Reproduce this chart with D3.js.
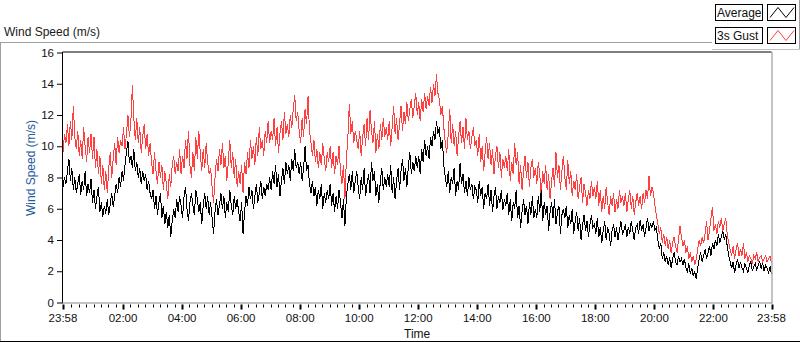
<!DOCTYPE html>
<html>
<head>
<meta charset="utf-8">
<script src="https://cdn.jsdelivr.net/npm/d3@7"></script>
<style>
  html, body { margin: 0; padding: 0; background: #fff; }
  svg { display: block; font-family: "Liberation Sans", Arial, sans-serif; }
</style>
</head>
<body>
<svg id="chart" width="800" height="342"></svg>
<script>
// ---- data (one row per hour, sampled every 3 minutes from 23:58) ----
const startTime = "23:58";
const sampleMinutes = 3;
const avgSpeed = [
  7.4, 8.0, 7.6, 8.4, 9.2, 7.8, 8.6, 7.2, 8.0, 7.0, 7.6, 8.2, 6.9, 7.8, 7.2, 8.4, 6.8, 7.6, 7.0, 7.9,
  6.4, 7.2, 6.0, 6.8, 7.4, 5.8, 6.4, 5.5, 6.2, 5.7, 6.6, 5.6, 6.3, 7.0, 6.1, 6.8, 7.6, 7.0, 8.0, 7.4,
  8.4, 7.8, 8.8, 9.6, 10.3, 8.9, 9.4, 8.6, 9.8, 8.4, 9.0, 8.0, 8.6, 7.6, 8.4, 7.8, 8.2, 7.2, 7.8, 7.0,
  6.6, 7.2, 6.0, 6.8, 5.6, 6.4, 7.0, 5.4, 6.2, 5.0, 5.8, 4.8, 5.6, 4.2, 5.2, 6.0, 5.4, 6.6, 5.8, 6.8,
  6.2, 5.4, 6.8, 7.4, 6.0, 5.2, 6.4, 7.0, 6.2, 5.6, 7.2, 6.6, 5.8, 6.4, 5.0, 6.2, 7.0, 6.0, 6.8, 5.6,
  6.4, 5.4, 4.4, 5.8, 6.6, 5.6, 6.2, 7.0, 6.0, 6.8, 5.4, 6.4, 5.8, 7.2, 6.2, 5.6, 6.8, 6.0, 6.6, 5.8,
  5.2, 6.4, 4.4, 5.8, 6.8, 6.2, 7.4, 6.6, 7.2, 6.0, 6.8, 7.6, 6.4, 7.0, 7.8, 6.6, 7.4, 6.8, 7.6, 7.2,
  8.0, 7.2, 8.4, 7.6, 8.8, 7.4, 8.2, 6.8, 7.8, 8.6, 7.6, 9.0, 8.2, 8.8, 7.8, 9.2, 8.4, 9.8, 8.6, 9.0,
  8.2, 9.0, 7.8, 8.6, 10.0, 8.4, 8.8, 7.6, 7.0, 7.8, 6.8, 7.4, 6.2, 7.2, 6.6, 7.6, 6.0, 7.0, 6.4, 7.2,
  6.6, 7.6, 6.2, 7.0, 5.8, 6.8, 6.0, 7.2, 6.4, 5.4, 6.6, 4.9, 6.8, 7.6, 8.2, 7.2, 8.4, 7.0, 7.8, 8.4,
  7.4, 6.6, 8.0, 7.2, 8.6, 6.8, 7.6, 8.2, 7.0, 9.0, 7.8, 8.4, 6.8, 7.6, 6.4, 7.8, 8.6, 7.2, 8.0, 7.4,
  8.2, 7.4, 8.8, 7.0, 8.0, 6.6, 7.8, 8.6, 7.2, 8.4, 9.2, 7.8, 8.6, 7.4, 8.8, 9.6, 8.2, 9.0, 8.4, 9.4,
  8.6, 9.4, 8.2, 9.8, 9.0, 10.4, 9.4, 10.0, 9.2, 10.6, 10.0, 11.0, 10.4, 11.6, 10.8, 11.2, 9.8, 10.4, 8.8, 8.0,
  7.4, 8.4, 7.0, 8.0, 7.6, 8.6, 6.8, 7.8, 7.2, 8.9, 7.6, 8.2, 7.0, 7.8, 6.8, 8.0, 7.2, 7.6, 6.6, 7.4,
  7.2, 6.4, 7.8, 6.8, 7.4, 6.0, 7.0, 6.6, 7.6, 6.2, 7.2, 5.8, 6.8, 7.4, 6.0, 6.8, 6.4, 7.2, 5.9, 6.6,
  6.2, 7.0, 5.6, 6.6, 5.2, 6.4, 6.0, 7.2, 5.4, 6.2, 4.8, 5.8, 6.6, 5.6, 6.2, 5.0, 6.4, 5.6, 6.8, 5.4,
  6.0, 5.4, 6.8, 5.8, 7.2, 5.2, 6.4, 5.6, 6.2, 4.6, 5.8, 6.4, 5.4, 6.6, 5.0, 5.8, 6.2, 4.4, 5.6, 6.0,
  5.4, 6.2, 4.8, 5.6, 5.0, 6.0, 4.4, 5.2, 5.8, 4.6, 5.4, 4.0, 5.0, 5.6, 4.6, 5.2, 4.2, 5.0, 5.6, 4.8,
  5.0, 4.4, 5.4, 4.2, 4.8, 3.8, 4.6, 5.2, 4.0, 4.8, 4.4, 3.6, 4.6, 5.0, 4.2, 4.8, 4.0, 4.6, 5.2, 4.4,
  4.6, 5.0, 4.2, 4.8, 4.4, 5.2, 4.6, 4.0, 4.8, 5.0, 4.4, 5.3, 4.6, 5.0, 4.2, 4.8, 5.4, 4.6, 5.0, 4.8,
  5.2, 4.6, 4.8, 4.0, 3.4, 3.8, 2.8, 3.2, 2.6, 3.0, 2.4, 2.9, 2.2, 2.8, 3.2, 2.6, 2.4, 3.0, 2.6, 2.8,
  2.4, 2.8, 2.2, 2.0, 2.5, 1.8, 2.2, 1.7, 2.0, 1.5, 2.2, 2.8, 3.2, 2.6, 3.0, 3.4, 2.8, 3.2, 3.6, 3.0,
  3.8, 3.4, 4.0, 3.6, 4.4, 3.8, 4.2, 4.6, 4.0, 4.4, 3.6, 3.0, 2.6, 2.2, 2.6, 1.9, 2.4, 2.8, 2.2, 2.6,
  2.2, 2.0, 2.5, 2.2, 1.9, 2.4, 2.6, 2.0, 2.3, 2.5, 2.1, 2.4, 2.6, 2.2, 2.5, 2.0, 2.4, 2.2, 1.9, 2.3, 1.8
];
const gustSpeed = [
  9.6, 10.8, 10.2, 11.4, 10.0, 11.6, 10.4, 12.6, 10.6, 9.8, 11.0, 9.4, 10.4, 9.2, 11.2, 10.0, 9.0, 10.6, 9.6, 10.8,
  9.2, 10.6, 8.6, 9.8, 8.2, 9.4, 7.6, 8.8, 7.2, 8.4, 7.0, 8.6, 9.6, 8.0, 9.2, 10.2, 8.8, 10.6, 9.6, 10.4,
  10.0, 11.2, 9.8, 10.8, 12.0, 10.6, 11.6, 13.9, 11.8, 10.4, 11.8, 10.2, 11.2, 9.6, 10.6, 11.4, 9.8, 10.8, 9.4, 10.2,
  9.0, 8.2, 9.6, 8.4, 7.6, 9.0, 8.0, 8.8, 7.2, 8.4, 7.6, 6.6, 8.2, 7.4, 8.8, 9.4, 8.2, 9.0, 8.4, 9.8,
  8.2, 9.4, 8.6, 10.4, 9.2, 11.0, 8.8, 8.0, 9.6, 8.4, 10.6, 9.2, 11.0, 9.6, 8.4, 9.8, 8.6, 10.2, 9.0, 8.2,
  8.6, 7.4, 6.4, 8.0, 9.2, 8.4, 9.8, 8.8, 10.2, 8.6, 9.4, 7.8, 9.0, 10.4, 8.6, 9.6, 8.0, 9.2, 7.4, 8.4,
  7.6, 8.8, 7.0, 9.0, 8.2, 9.6, 8.6, 10.4, 9.2, 10.0, 8.8, 10.6, 9.4, 11.2, 9.8, 10.4, 9.4, 11.0, 10.2, 11.6,
  10.2, 11.0, 10.4, 11.8, 10.0, 11.2, 9.6, 10.8, 11.6, 10.4, 12.2, 10.8, 11.4, 10.6, 12.0, 11.2, 12.4, 13.3, 11.6, 12.2,
  11.0, 10.2, 11.8, 10.6, 12.4, 11.4, 13.2, 11.0, 10.2, 9.4, 10.4, 9.0, 9.8, 8.6, 9.6, 8.8, 10.2, 9.2, 8.4, 9.6,
  9.0, 10.0, 8.6, 9.6, 8.2, 9.4, 8.8, 10.0, 8.4, 7.6, 8.8, 6.6, 9.2, 10.6, 12.7, 10.8, 11.6, 10.2, 11.0, 10.4,
  9.8, 11.0, 9.4, 10.6, 11.4, 10.0, 11.8, 10.4, 12.3, 11.0, 10.2, 11.6, 9.6, 10.8, 9.8, 11.4, 10.4, 11.8, 10.6, 11.2,
  10.4, 11.6, 10.0, 11.2, 12.6, 10.8, 11.8, 10.4, 11.4, 12.6, 11.0, 12.2, 11.4, 12.8, 11.6, 12.4, 13.0, 11.8, 12.6, 13.4,
  12.0, 12.8, 11.6, 13.0, 12.2, 13.4, 12.4, 13.2, 12.6, 13.8, 12.8, 14.0, 13.2, 14.6, 13.4, 13.0, 12.0, 12.6, 11.2, 10.2,
  9.6, 10.8, 12.4, 10.2, 11.4, 10.0, 11.0, 9.4, 10.6, 11.6, 10.2, 11.2, 9.8, 11.8, 10.4, 11.0, 9.8, 10.6, 11.2, 10.0,
  10.4, 9.4, 10.8, 9.0, 10.0, 8.4, 9.6, 10.6, 9.2, 10.2, 8.8, 9.8, 8.2, 9.4, 10.0, 8.6, 9.6, 8.0, 9.2, 8.6,
  9.4, 8.4, 9.8, 7.8, 9.0, 8.2, 10.2, 8.8, 9.6, 7.6, 8.8, 7.2, 8.4, 9.4, 8.0, 9.0, 7.4, 8.6, 9.2, 8.0,
  8.6, 7.6, 9.0, 8.2, 6.8, 8.4, 7.6, 8.8, 7.2, 8.2, 6.6, 7.8, 8.6, 7.4, 9.6, 8.0, 8.8, 7.2, 8.4, 9.4,
  8.0, 7.2, 9.1, 7.6, 8.4, 6.8, 7.8, 7.2, 8.2, 6.6, 7.4, 8.0, 6.4, 7.6, 7.0, 6.2, 7.2, 6.6, 7.8, 6.8,
  7.4, 6.6, 7.8, 6.2, 7.2, 5.8, 6.8, 6.0, 7.4, 6.4, 5.6, 6.8, 6.2, 7.0, 5.8, 6.6, 6.0, 7.2, 6.4, 6.8,
  6.2, 7.0, 5.8, 6.6, 7.2, 6.0, 6.8, 5.6, 6.4, 7.0, 6.2, 6.8, 6.0, 7.0, 6.4, 7.2, 6.6, 8.1, 6.8, 7.4,
  7.0, 6.2, 5.6, 5.0, 4.4, 4.8, 3.8, 4.4, 3.6, 4.2, 3.4, 4.0, 3.2, 3.8, 4.2, 3.6, 3.2, 4.0, 4.9, 4.2,
  3.6, 4.0, 3.2, 3.6, 2.8, 3.2, 2.6, 3.0, 2.4, 2.8, 3.4, 4.0, 3.6, 4.2, 3.8, 4.4, 5.2, 4.0, 4.6, 5.4,
  6.1, 4.6, 5.0, 4.4, 5.2, 4.8, 5.4, 4.6, 5.0, 5.4, 4.4, 3.8, 3.4, 3.0, 3.6, 2.8, 3.4, 3.8, 3.0, 3.4,
  3.0, 3.8, 2.8, 3.2, 2.6, 3.0, 2.8, 2.5, 3.0, 2.8, 3.2, 2.6, 2.9, 3.0, 2.6, 2.8, 3.0, 2.6, 2.8, 3.0, 2.5
];
const yTickValues = [0, 2, 4, 6, 8, 10, 12, 14, 16];
const seriesNames = ["Average", "3s Gust"];
const seriesColors = ["#000000", "#ff4040"];
const chartTitle = "Wind Speed (m/s)";
const yAxisTitle = "Wind Speed (m/s)";
const xAxisTitle = "Time";

// ---- setup ----
const svg = d3.select("#chart");
const plot = { left: 63, top: 52.5, right: 771.5, bottom: 302.5 };

const [sh, sm] = startTime.split(":").map(Number);
const t0 = new Date(2020, 0, 1, sh, sm);
const t1 = new Date(t0.getTime() + 24 * 3600 * 1000);
const timeAt = i => new Date(t0.getTime() + i * sampleMinutes * 60000);

const x = d3.scaleTime().domain([t0, t1]).range([plot.left, plot.right]);
const y = d3.scaleLinear().domain([0, 16]).range([plot.bottom, plot.top]);
const fmt = d3.timeFormat("%H:%M");

// outer frame
svg.append("line").attr("x1", 0).attr("x2", 712).attr("y1", 42.5).attr("y2", 42.5).attr("stroke", "#a0a0a0");
svg.append("line").attr("x1", 0.5).attr("x2", 0.5).attr("y1", 42.5).attr("y2", 341).attr("stroke", "#a0a0a0");
svg.append("line").attr("x1", 0).attr("x2", 800).attr("y1", 341.5).attr("y2", 341.5).attr("stroke", "#000");
// legend panel borders
svg.append("line").attr("x1", 712).attr("x2", 799).attr("y1", 49.5).attr("y2", 49.5).attr("stroke", "#c0c0c0");
svg.append("line").attr("x1", 799.5).attr("x2", 799.5).attr("y1", 0).attr("y2", 49.5).attr("stroke", "#a0a0a0");

// chart title
svg.append("text").attr("x", 4).attr("y", 36).attr("font-size", 12).attr("fill", "#1a1a1a").text(chartTitle);

// clip
svg.append("clipPath").attr("id", "clip").append("rect")
  .attr("x", plot.left).attr("y", plot.top).attr("width", plot.right - plot.left).attr("height", plot.bottom - plot.top);

// lines (aliased, like the original instrument display)
const line = d3.line().x((d, i) => x(timeAt(i))).y(d => y(d));
const g = svg.append("g").attr("clip-path", "url(#clip)");
g.append("path").datum(gustSpeed).attr("d", line).attr("fill", "none").attr("stroke", seriesColors[1])
  .attr("stroke-width", 1).attr("shape-rendering", "crispEdges");
g.append("path").datum(avgSpeed).attr("d", line).attr("fill", "none").attr("stroke", seriesColors[0])
  .attr("stroke-width", 1).attr("shape-rendering", "crispEdges");

// plot frame
svg.append("line").attr("x1", plot.left - 0.5).attr("x2", plot.right).attr("y1", plot.top - 0.5).attr("y2", plot.top - 0.5).attr("stroke", "#000");
svg.append("line").attr("x1", plot.left - 0.5).attr("x2", plot.left - 0.5).attr("y1", plot.top - 0.5).attr("y2", plot.bottom + 1).attr("stroke", "#000");
svg.append("line").attr("x1", plot.right + 0.5).attr("x2", plot.right + 0.5).attr("y1", plot.top - 0.5).attr("y2", plot.bottom + 1).attr("stroke", "#888");
svg.append("line").attr("x1", plot.left - 0.5).attr("x2", plot.right + 0.5).attr("y1", plot.bottom + 0.5).attr("y2", plot.bottom + 0.5).attr("stroke", "#888");

// y axis
const yAxis = d3.axisLeft(y).tickValues(yTickValues).tickSize(5).tickSizeOuter(0).tickPadding(3);
const ya = svg.append("g").attr("transform", `translate(${plot.left - 1},0)`).call(yAxis);
ya.select(".domain").remove();
ya.selectAll("text").attr("font-size", 11.5).attr("fill", "#111").attr("font-family", "Liberation Sans, Arial, sans-serif");
ya.selectAll("line").attr("stroke", "#000");

// x axis ticks
const minorTicks = d3.timeMinute.every(15).range(t0, t1)
  .filter(t => (t - t0) > 10 * 60000 && (t1 - t) > 10 * 60000 && !(t.getMinutes() === 0 && t.getHours() % 2 === 0));
const majorTicks = [t0].concat(d3.timeHour.every(2).range(t0, t1)
  .filter(t => (t - t0) > 10 * 60000 && (t1 - t) > 10 * 60000)).concat([t1]);

const xa = svg.append("g").attr("transform", `translate(0,${plot.bottom + 1})`);
xa.selectAll("line.minor").data(minorTicks).join("line")
  .attr("x1", d => Math.round(x(d)) + 0.5).attr("x2", d => Math.round(x(d)) + 0.5)
  .attr("y1", 1).attr("y2", 4).attr("stroke", "#000");
xa.selectAll("rect.major").data(majorTicks).join("rect")
  .attr("x", d => Math.round(x(d)) - 0.5).attr("width", 2)
  .attr("y", 1).attr("height", 5).attr("fill", "#000");
xa.selectAll("text").data(majorTicks).join("text")
  .attr("x", d => x(d)).attr("y", 18.5).attr("text-anchor", "middle")
  .attr("font-size", 11.5).attr("fill", "#111").text(d => fmt(d));

// axis titles
svg.append("text").attr("x", 404).attr("y", 338).attr("font-size", 12).attr("fill", "#111").text(xAxisTitle);
svg.append("text").attr("transform", "translate(35,168) rotate(-90)").attr("text-anchor", "middle")
  .attr("font-size", 12).attr("fill", "#245a9c").text(yAxisTitle);

// legend
const lg = svg.append("g");
seriesNames.forEach((name, i) => {
  const top = 4.5 + i * 23;
  lg.append("rect").attr("x", 715.5).attr("y", top).attr("width", 47).attr("height", 16)
    .attr("fill", "#fff").attr("stroke", "#000");
  lg.append("text").attr("x", 717).attr("y", top + 12.5).attr("font-size", 12).attr("fill", "#111").text(name);
  lg.append("rect").attr("x", 767.5).attr("y", top).attr("width", 28).attr("height", 16)
    .attr("fill", "#fff").attr("stroke", "#000");
  lg.append("path")
    .attr("d", `M${770},${top + 13} L${778},${top + 3} L${786},${top + 13} L${794},${top + 3}`)
    .attr("fill", "none").attr("stroke", seriesColors[i]).attr("stroke-width", 1);
});
</script>
</body>
</html>
